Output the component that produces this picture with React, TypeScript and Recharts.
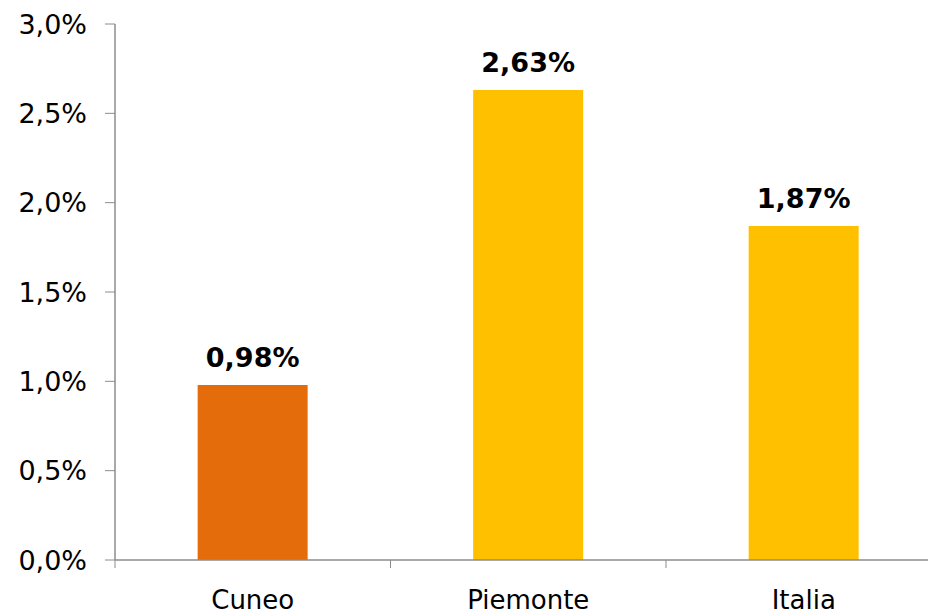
import { Bar, BarChart, Cell, LabelList, XAxis, YAxis } from "recharts";

// share of population, %
const AREAS = ["Cuneo", "Piemonte", "Italia"];
const SHARE = [0.98, 2.63, 1.87];
const Y_TICKS = [0, 0.5, 1, 1.5, 2, 2.5, 3];

const ORANGE = "#E46C0A";
const GOLD = "#FFC000";
const AXIS = "#8c8c8c";
const FONT = "'DejaVu Sans', Verdana, sans-serif";

const fmtTick = (v: number) => v.toFixed(1).replace(".", ",") + "%";
const fmtLabel = (v: number) => v.toFixed(2).replace(".", ",") + "%";

// category label + tick marks on the band edges (Excel style)
function AreaTick(props: any) {
  const { x, y, payload, index } = props;
  const half = payload?.offset ?? 0;
  const last = index === AREAS.length - 1;
  return (
    <g>
      <line x1={x - half} x2={x - half} y1={y} y2={y + 8} stroke={AXIS} />
      {last && <line x1={x + half} x2={x + half} y1={y} y2={y + 8} stroke={AXIS} />}
      <text
        x={x}
        y={y + 31}
        dy="0.71em"
        textAnchor="middle"
        fill="#000"
        fontSize={26}
        fontFamily={FONT}
      >
        {payload.value}
      </text>
    </g>
  );
}

export default function App() {
  const rows = AREAS.map((a, i) => ({ area: a, value: SHARE[i] }));
  return (
    <div
      style={{
        position: "fixed",
        left: 0,
        top: 0,
        width: 928,
        height: 614,
        overflow: "hidden",
        background: "#fff",
      }}
    >
      <BarChart
        width={950}
        height={614}
        data={rows}
        margin={{ top: 24, right: 8.5, bottom: 0, left: 0 }}
        barCategoryGap="30%"
      >
        <XAxis
          dataKey="area"
          height={54}
          axisLine={{ stroke: AXIS, strokeWidth: 1.5 }}
          tickLine={false}
          tickSize={0}
          tickMargin={0}
          tick={<AreaTick />}
        />
        <YAxis
          width={115}
          domain={[0, 3]}
          ticks={Y_TICKS}
          axisLine={{ stroke: AXIS, strokeWidth: 1.5 }}
          tickLine={{ stroke: AXIS }}
          tickSize={10}
          tickMargin={18}
          tickFormatter={fmtTick}
          tick={{ fill: "#000", fontSize: 27, fontFamily: FONT }}
        />
        <Bar dataKey="value" isAnimationActive={false}>
          {rows.map((r) => (
            <Cell key={r.area} fill={r.area === "Cuneo" ? ORANGE : GOLD} />
          ))}
          <LabelList
            dataKey="value"
            position="top"
            offset={18}
            formatter={(v: any) => fmtLabel(Number(v))}
            style={{ fill: "#000", fontSize: 27, fontWeight: "bold", fontFamily: FONT }}
          />
        </Bar>
      </BarChart>
    </div>
  );
}
